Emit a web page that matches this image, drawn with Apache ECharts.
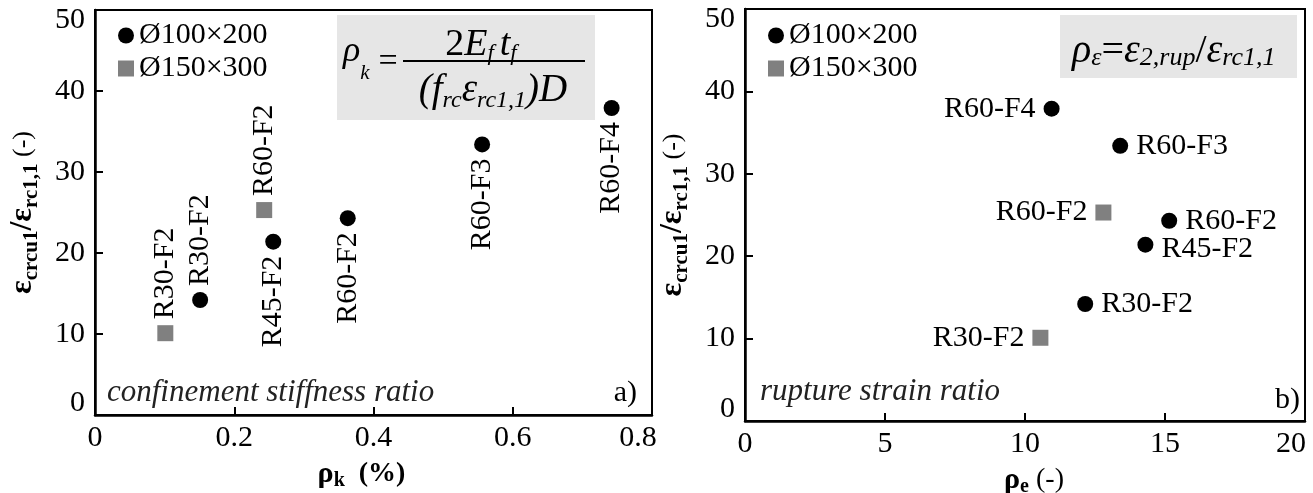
<!DOCTYPE html>
<html><head><meta charset="utf-8">
<script src="https://cdn.jsdelivr.net/npm/echarts@6/dist/echarts.min.js"></script>
<style>html,body{margin:0;padding:0;background:#fff}#c{width:1313px;height:493px}</style>
</head><body><div id="c"></div>
<script>
// ---- data ----
const names100 = ['R30-F2', 'R45-F2', 'R60-F2', 'R60-F3', 'R60-F4'];
const rhoK100 = [0.151, 0.256, 0.363, 0.556, 0.742];
const rhoE100 = [12.15, 14.3, 15.15, 13.4, 10.95];
const ratio100 = [14.2, 21.4, 24.3, 33.4, 37.9];
const names150 = ['R30-F2', 'R60-F2'];
const rhoK150 = [0.101, 0.243];
const rhoE150 = [10.55, 12.8];
const ratio150 = [10.1, 25.3];
const xTicksK = [0, 0.2, 0.4, 0.6, 0.8];
const xTicksE = [0, 5, 10, 15, 20];
const yTicks = [0, 10, 20, 30, 40, 50];
const legendNames = ['Ø100×200', 'Ø150×300'];

// ---- style ----
const F = 'Liberation Serif';
const kSide100 = ['top', 'bottom', 'bottom', 'bottom', 'bottom'];
const kSide150 = ['top', 'top'];
const eSide100 = ['right', 'right', 'right', 'right', 'left'];
const eSide150 = ['left', 'left'];

function kItems(names, xs, ys, sides) {
  return names.map((n, i) => ({
    name: n, value: [xs[i], ys[i]],
    label: sides[i] === 'top' ? { position: 'top', align: 'left' } : { position: 'bottom', align: 'right' }
  }));
}
function eItems(names, xs, ys, sides) {
  return names.map((n, i) => ({
    name: n, value: [xs[i], ys[i]],
    label: { position: sides[i], offset: n === 'R45-F2' ? [0, 4] : [0, 0] }
  }));
}
const baseLabelK = { show: true, rotate: 90, verticalAlign: 'middle', distance: 6, formatter: '{b}', fontSize: 30, fontFamily: F, color: '#000' };
const baseLabelE = { show: true, verticalAlign: 'middle', distance: 8, formatter: '{b}', fontSize: 30, fontFamily: F, color: '#000' };

// rich set with subscripts lowered by d px relative to main baseline
function sub(mainSize, subSize, d, L, opts) {
  const P = Math.round(2 * (d + 0.3 * (mainSize - subSize)));
  const o = opts || {};
  return {
    m: { fontFamily: F, fontStyle: o.mainStyle || 'italic', fontWeight: o.weight || 'normal', fontSize: mainSize, lineHeight: L, color: '#000' },
    n: { fontFamily: F, fontWeight: o.nWeight || 'normal', fontSize: o.nSize || mainSize, lineHeight: L, color: '#000' },
    s: { fontFamily: F, fontStyle: o.subStyle || 'italic', fontWeight: o.weight || 'normal', fontSize: subSize, lineHeight: L, padding: [P, 0, 0, 0], color: '#000' }
  };
}

function yAxis(gridIndex, nameGap) {
  return {
    gridIndex, type: 'value', min: yTicks[0], max: yTicks[yTicks.length - 1], interval: yTicks[1] - yTicks[0],
    splitLine: { show: false },
    axisLine: { show: true, lineStyle: { color: '#000', width: 2.5 } },
    axisTick: { show: true, inside: true, length: 8, lineStyle: { color: '#000', width: 2 } },
    axisLabel: {
      margin: 10, color: '#000', fontSize: 30, fontFamily: F,
      formatter: v => v === yTicks[yTicks.length - 1] ? '{t|' + v + '}' : (v === 0 ? '{b|' + v + '}' : String(v)),
      rich: {
        t: { fontSize: 30, fontFamily: F, color: '#000', padding: [20, 0, 0, 0] },
        b: { fontSize: 30, fontFamily: F, color: '#000', padding: [0, 0, 24, 0] }
      }
    },
    name: '{m|ε}{s|crcu1}{m|/ε}{s|rc1,1}{n| (-)}',
    nameLocation: 'middle', nameGap: nameGap, nameRotate: 90, nameMoveOverlap: false,
    nameTextStyle: { rich: sub(32, 21, 5, 36, { mainStyle: 'normal', subStyle: 'normal', weight: 'bold', nSize: 26 }) }
  };
}
function xAxis(gridIndex, ticks, name, pad, nWeight) {
  const last = ticks[ticks.length - 1];
  const rich = sub(30, 20, 4, 30, { mainStyle: 'normal', subStyle: 'normal', weight: 'bold', nSize: 28, nWeight: nWeight });
  return {
    gridIndex, type: 'value', min: ticks[0], max: last, interval: ticks[1] - ticks[0],
    splitLine: { show: false },
    axisLine: { show: true, lineStyle: { color: '#000', width: 2.5 } },
    axisTick: { show: true, inside: true, length: 8, lineStyle: { color: '#000', width: 2 } },
    axisLabel: {
      margin: 8, color: '#000', fontSize: 30, fontFamily: F,
      formatter: v => v === last ? '{r|' + v + '}' : String(v),
      rich: { r: { fontSize: 30, fontFamily: F, color: '#000', padding: [0, 28, 0, 0] } }
    },
    name: name, nameLocation: 'middle', nameGap: 44, nameMoveOverlap: false,
    nameTextStyle: { rich: rich, padding: pad }
  };
}

const graphic = [
  { type: 'rect', shape: { x: 337, y: 15, width: 258, height: 105 }, style: { fill: '#e6e6e6' }, z: 0 },
  { type: 'text', x: 343, y: 52, style: { text: '{m|ρ}{s|k}', rich: sub(36, 21, 17, 40), align: 'left', verticalAlign: 'middle' }, z: 10 },
  { type: 'text', x: 388, y: 62, style: { text: '=', font: '34px "Liberation Serif"', fill: '#000', align: 'center', verticalAlign: 'middle' }, z: 10 },
  { type: 'line', shape: { x1: 403, y1: 61, x2: 585, y2: 61 }, style: { stroke: '#000', lineWidth: 2 }, z: 10 },
  { type: 'text', x: 481, y: 45, style: { text: '{n|2}{m|E}{s|f }{m|t}{s|f}', rich: sub(38, 23, 4, 42), align: 'center', verticalAlign: 'middle' }, z: 10 },
  { type: 'text', x: 493, y: 91, style: { text: '{m|(f}{s|rc}{m|ε}{s|rc1,1}{m|)D}', rich: sub(39, 24, 5, 42), align: 'center', verticalAlign: 'middle' }, z: 10 },

  { type: 'rect', shape: { x: 1060, y: 15, width: 237, height: 63 }, style: { fill: '#e6e6e6' }, z: 0 },
  { type: 'text', x: 1072, y: 51, style: { text: '{m|ρ}{s|ε}{n|=}{m|ε}{s|2,rup}{n|/}{m|ε}{s|rc1,1}', rich: sub(40, 26, 3, 44), align: 'left', verticalAlign: 'middle' }, z: 10 },

  { type: 'text', x: 107, y: 393, style: { text: 'confinement stiffness ratio', font: 'italic 31px "Liberation Serif"', fill: '#222', align: 'left', verticalAlign: 'middle' }, z: 10 },
  { type: 'text', x: 637, y: 393, style: { text: 'a)', font: '30px "Liberation Serif"', fill: '#000', align: 'right', verticalAlign: 'middle' }, z: 10 },
  { type: 'text', x: 760, y: 392, style: { text: 'rupture strain ratio', font: 'italic 31px "Liberation Serif"', fill: '#222', align: 'left', verticalAlign: 'middle' }, z: 10 },
  { type: 'text', x: 1300, y: 400, style: { text: 'b)', font: '30px "Liberation Serif"', fill: '#000', align: 'right', verticalAlign: 'middle' }, z: 10 }
];

function legend(left) {
  return {
    left: left, top: 14, orient: 'vertical', itemWidth: 16, itemHeight: 16, itemGap: 0,
    selectedMode: false,
    data: [{ name: legendNames[0], icon: 'circle' }, { name: legendNames[1], icon: 'rect' }],
    textStyle: { fontSize: 30, fontFamily: F, color: '#000', lineHeight: 33 }
  };
}

const option = {
  backgroundColor: '#fff',
  animation: false,
  grid: [
    { left: 95, right: 661, top: 10, bottom: 78, show: true, borderColor: '#000', borderWidth: 2, containLabel: false, outerBoundsMode: 'none' },
    { left: 745, right: 8, top: 9, bottom: 72, show: true, borderColor: '#000', borderWidth: 2, containLabel: false, outerBoundsMode: 'none' }
  ],
  legend: [legend(113), legend(763)],
  xAxis: [
    xAxis(0, xTicksK, '{m|ρ}{s|k}{n|  (%)}', [0, 24, 0, 0], 'bold'),
    xAxis(1, xTicksE, '{m|ρ}{s|e}{n| (-)}', [0, 0, 0, 18], 'normal')
  ],
  yAxis: [yAxis(0, 54), yAxis(1, 54)],
  graphic: graphic,
  series: [
    { name: legendNames[0], type: 'scatter', xAxisIndex: 0, yAxisIndex: 0, symbol: 'circle', symbolSize: 16,
      itemStyle: { color: '#000', opacity: 1 }, label: baseLabelK, data: kItems(names100, rhoK100, ratio100, kSide100) },
    { name: legendNames[1], type: 'scatter', xAxisIndex: 0, yAxisIndex: 0, symbol: 'rect', symbolSize: 16,
      itemStyle: { color: '#808080', opacity: 1 }, label: baseLabelK, data: kItems(names150, rhoK150, ratio150, kSide150) },
    { name: legendNames[0], type: 'scatter', xAxisIndex: 1, yAxisIndex: 1, symbol: 'circle', symbolSize: 16,
      itemStyle: { color: '#000', opacity: 1 }, label: baseLabelE, data: eItems(names100, rhoE100, ratio100, eSide100) },
    { name: legendNames[1], type: 'scatter', xAxisIndex: 1, yAxisIndex: 1, symbol: 'rect', symbolSize: 16,
      itemStyle: { color: '#808080', opacity: 1 }, label: baseLabelE, data: eItems(names150, rhoE150, ratio150, eSide150) }
  ]
};
const chart = echarts.init(document.getElementById('c'), null, { renderer: 'canvas' });
chart.setOption(option);
</script>
</body></html>
